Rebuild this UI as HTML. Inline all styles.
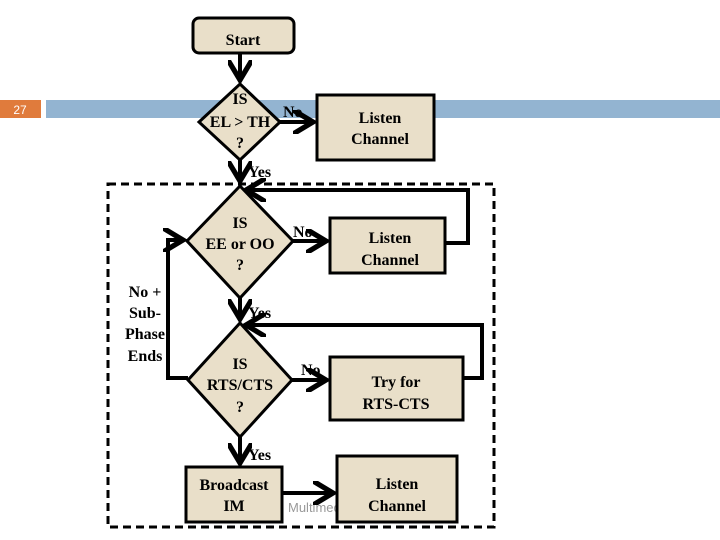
<!DOCTYPE html>
<html><head><meta charset="utf-8"><style>
body{margin:0;background:#fff;width:720px;height:540px;overflow:hidden}
svg{display:block}
text{font-family:"Liberation Serif",serif;font-weight:bold;font-size:16px;fill:#000}
</style></head><body>
<svg width="720" height="540" viewBox="0 0 720 540" xmlns="http://www.w3.org/2000/svg">
<defs>
<marker id="a" markerWidth="6" markerHeight="6" refX="5" refY="3" orient="auto" markerUnits="strokeWidth">
<path d="M0,0 L5,3 L0,6" fill="none" stroke="#000" stroke-width="1.3"/></marker>
</defs>
<rect x="0" y="100" width="41" height="18" fill="#e07b3c"/>
<text x="20" y="114" text-anchor="middle" style="font-family:'Liberation Sans',sans-serif;font-size:12px;fill:#fff;font-weight:normal">27</text>
<rect x="46" y="100" width="674" height="18" fill="#93b4d1"/>
<text x="288" y="512" style="font-family:'Liberation Sans',sans-serif;font-weight:normal;font-size:13px;fill:#999">Multimedia Networking Lab</text>
<rect x="108" y="184" width="386" height="343" fill="none" stroke="#000" stroke-width="3" stroke-dasharray="8,5"/>
<g stroke="#000" stroke-width="4" fill="none">
<line x1="240" y1="53" x2="240" y2="80" marker-end="url(#a)"/>
<line x1="280" y1="122" x2="313" y2="122" marker-end="url(#a)"/>
<line x1="240" y1="160" x2="240" y2="181" marker-end="url(#a)"/>
<line x1="293" y1="241" x2="326" y2="241" marker-end="url(#a)"/>
<polyline points="445,243 468,243 468,190 246,190" marker-end="url(#a)"/>
<line x1="240" y1="298" x2="240" y2="319" marker-end="url(#a)"/>
<polyline points="188,378 168,378 168,240 183,240" marker-end="url(#a)"/>
<line x1="292" y1="380" x2="326" y2="380" marker-end="url(#a)"/>
<polyline points="463,378 482,378 482,325 246,325" marker-end="url(#a)"/>
<line x1="240" y1="437" x2="240" y2="463" marker-end="url(#a)"/>
<line x1="282" y1="493" x2="333" y2="493" marker-end="url(#a)"/>
</g>
<g fill="#e9dfc9" stroke="#000" stroke-width="3">
<rect x="193" y="18" width="101" height="35" rx="6"/>
<polygon points="240,84 280,122 240,160 199,122"/>
<rect x="317" y="95" width="117" height="65"/>
<polygon points="240,186 293,241 240,298 187,241"/>
<rect x="330" y="218" width="115" height="55"/>
<polygon points="240,323 292,380 240,437 188,380"/>
<rect x="330" y="357" width="133" height="63"/>
<rect x="186" y="467" width="96" height="55"/>
<rect x="337" y="456" width="120" height="66"/>
</g>
<g text-anchor="middle">
<text x="243" y="45">Start</text>
<text x="240" y="104">IS</text><text x="240" y="127">EL &gt; TH</text><text x="240" y="148">?</text>
<text x="380" y="123">Listen</text><text x="380" y="144">Channel</text>
<text x="240" y="228">IS</text><text x="240" y="249">EE or OO</text><text x="240" y="270">?</text>
<text x="390" y="243">Listen</text><text x="390" y="265">Channel</text>
<text x="240" y="369">IS</text><text x="240" y="390">RTS/CTS</text><text x="240" y="412">?</text>
<text x="396" y="387">Try for</text><text x="396" y="409">RTS-CTS</text>
<text x="234" y="490">Broadcast</text><text x="234" y="511">IM</text>
<text x="397" y="489">Listen</text><text x="397" y="511">Channel</text>
<text x="145" y="297">No +</text><text x="145" y="318">Sub-</text><text x="145" y="339">Phase</text><text x="145" y="361">Ends</text>
</g>
<text x="283" y="117">No</text>
<text x="293" y="237">No</text>
<text x="301" y="375">No</text>
<text x="248" y="177">Yes</text>
<text x="248" y="318">Yes</text>
<text x="248" y="460">Yes</text>
</svg>
</body></html>
